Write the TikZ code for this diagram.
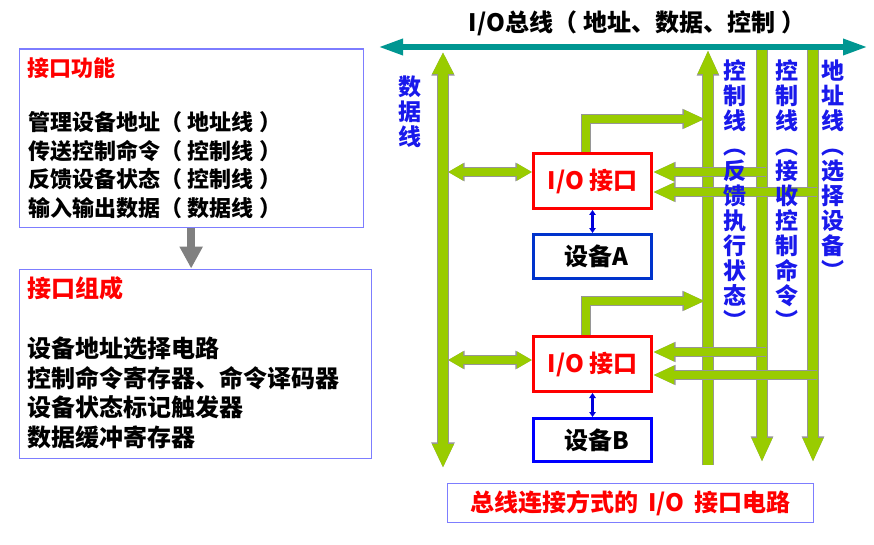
\documentclass[tikz,border=0pt]{standalone}
\usepackage{fontspec}
\setmainfont{Noto Sans CJK SC}
\usetikzlibrary{arrows.meta,calc}
\definecolor{gr}{RGB}{153,204,0}
\definecolor{edge}{RGB}{150,150,150}
\definecolor{busteal}{RGB}{0,150,145}
\definecolor{tblue}{RGB}{25,25,235}
\definecolor{bxblue}{RGB}{125,125,255}
\definecolor{devblue}{RGB}{0,51,204}
\definecolor{linkblue}{RGB}{0,0,220}
\newcommand\fsz[2]{\fontsize{#1}{#2}\selectfont}
\newcommand\lp{（\hspace{0.25em}}
\newcommand\rp{\hspace{0.25em}）}
\begin{document}
\begin{tikzpicture}[x=1pt,y=-1pt,
  every node/.style={inner sep=0pt},
  gline/.style={draw=gr, line width=10pt, preaction={draw=edge, line width=11.6pt}},
  hline/.style={draw=gr, line width=8pt, preaction={draw=edge, line width=9.6pt}},
  vtip/.style={-{Triangle[width=9pt 1, length=14pt 1]}},
  htip/.style={-{Triangle[width=9pt 1, length=13pt 1]}},
  dtip/.style={{Triangle[width=8pt 1, length=7pt 1]}-{Triangle[width=8pt 1, length=7pt 1]}},
  ifbox/.style={draw=red, line width=3pt, minimum width=118pt, minimum height=55pt, text=red, font=\bfseries\fsz{24}{24}},
  devbox/.style={draw=devblue, line width=3pt, minimum width=118pt, minimum height=44pt, font=\bfseries\fsz{24}{24}},
  vtext/.style={text=tblue, font=\bfseries\fsz{23}{25}, align=center},
  infobox/.style={draw=bxblue, line width=1.3pt, anchor=north west},
  link/.style={draw=linkblue, line width=2.4pt, {Triangle[length=5pt,width=6.5pt]}-{Triangle[length=5pt,width=6.5pt]}},
]
\useasboundingbox (0,0) rectangle (874,545);

% ---------- right part ----------
\node[font=\bfseries\fsz{24}{24}] (title) at (637,23) {I/O总线\lp 地址、数据、控制\rp};

\coordinate (dTop) at (443,52);  \coordinate (dBot) at (443,468);
\coordinate (fTop) at (708,50);  \coordinate (fBot) at (708,465);
\coordinate (cTop) at (762,47);  \coordinate (cBot) at (762,462);
\coordinate (aTop) at (813,47);  \coordinate (aBot) at (813,462);
\coordinate (busL) at (378,47);  \coordinate (busR) at (868,47);

\draw[gline, {Triangle[width=10pt 1,length=14pt 1]}-{Triangle[width=10pt 1,length=12pt 1]}] (dBot) -- (dTop);
\draw[gline, vtip] (fBot) -- (fTop);
\draw[gline, vtip] (cTop) -- (cBot);
\draw[gline, vtip] (aTop) -- (aBot);

\draw[draw=busteal, line width=6pt, {Triangle[width=15pt,length=25pt]}-{Triangle[width=15pt,length=25pt]}] (busL) -- (busR);

\node[ifbox] (ifA) at (592.5,181) {I/O 接口};
\node[devbox] (devA) at (592.5,256.5) {\hspace*{8pt}设备A};
\node[ifbox] (ifB) at (592.5,364) {I/O 接口};
\node[devbox, minimum height=43pt, draw=blue] (devB) at (592.5,440) {\hspace*{8pt}设备B};

\draw[link] (ifA.south) -- (devA.north);
\draw[link] (ifB.south) -- (devB.north);

% feedback arrows from interface tops
\coordinate (fbA) at (705,119);
\coordinate (fbB) at (705,301);
\draw[hline, htip] ([xshift=-6.5pt]ifA.north) |- (fbA);
\draw[hline, htip] ([xshift=-6.5pt]ifB.north) |- (fbB);

% data arrows
\coordinate (dA) at (448,172);
\coordinate (dB) at (448,360);
\draw[hline, dtip] (dA) -- (dA -| ifA.west);
\draw[hline, dtip] (dB) -- (dB -| ifB.west);

% control & address arrows into interfaces
\coordinate (cA) at (766,172);
\coordinate (aA) at (817,192);
\coordinate (cB) at (766,352);
\coordinate (aB) at (817,375);
\draw[hline, htip] (cA) -- (cA -| ifA.east);
\draw[hline, htip] (aA) -- (aA -| ifA.east);
\draw[hline, htip] (cB) -- (cB -| ifB.east);
\draw[hline, htip] (aB) -- (aB -| ifB.east);

% vertical labels
\node[vtext] (lblD) at (410,112) {数\\据\\线};
\node[vtext] (lblF) at (735,195) {控\\制\\线\\︵\\反\\馈\\执\\行\\状\\态\\︶};
\node[vtext] (lblC) at (787,195) {控\\制\\线\\︵\\接\\收\\控\\制\\命\\令\\︶};
\node[vtext] (lblA) at (833,170) {地\\址\\线\\︵\\选\\择\\设\\备\\︶};

% caption
\node[draw=bxblue, line width=1.2pt, minimum width=366pt, minimum height=39pt, text=red, font=\bfseries\fsz{24}{24}] (cap) at (630.5,503) {总线连接方式的\hspace{0.4em}I/O\hspace{0.4em}接口电路};

% ---------- left part ----------
\node[infobox, minimum width=344pt, minimum height=178pt] (fn) at (18.5,48.5) {};
\node[anchor=west, text=red, font=\bfseries\fsz{22}{22}] (fnT) at (27,68) {接口功能};
\node[anchor=west, align=left, font=\bfseries\fsz{22}{28.7}] (fnL) at (28,165) {管理设备地址\lp 地址线\rp\\传送控制命令\lp 控制线\rp\\反馈设备状态\lp 控制线\rp\\输入输出数据\lp 数据线\rp};

\node[infobox, minimum width=352pt, minimum height=189pt] (cp) at (18.5,268.5) {};
\node[anchor=west, text=red, font=\bfseries\fsz{24}{24}] (cpT) at (27,288) {接口组成};
\node[anchor=west, align=left, font=\bfseries\fsz{24}{29.5}] (cpL) at (27,393) {设备地址选择电路\\控制命令寄存器、命令译码器\\设备状态标记触发器\\数据缓冲寄存器};

\draw[draw=gray, line width=8pt, -{Triangle[width=22pt,length=22pt]}] (fn.south) -- (fn.south |- cp.north);
\end{tikzpicture}
\end{document}
